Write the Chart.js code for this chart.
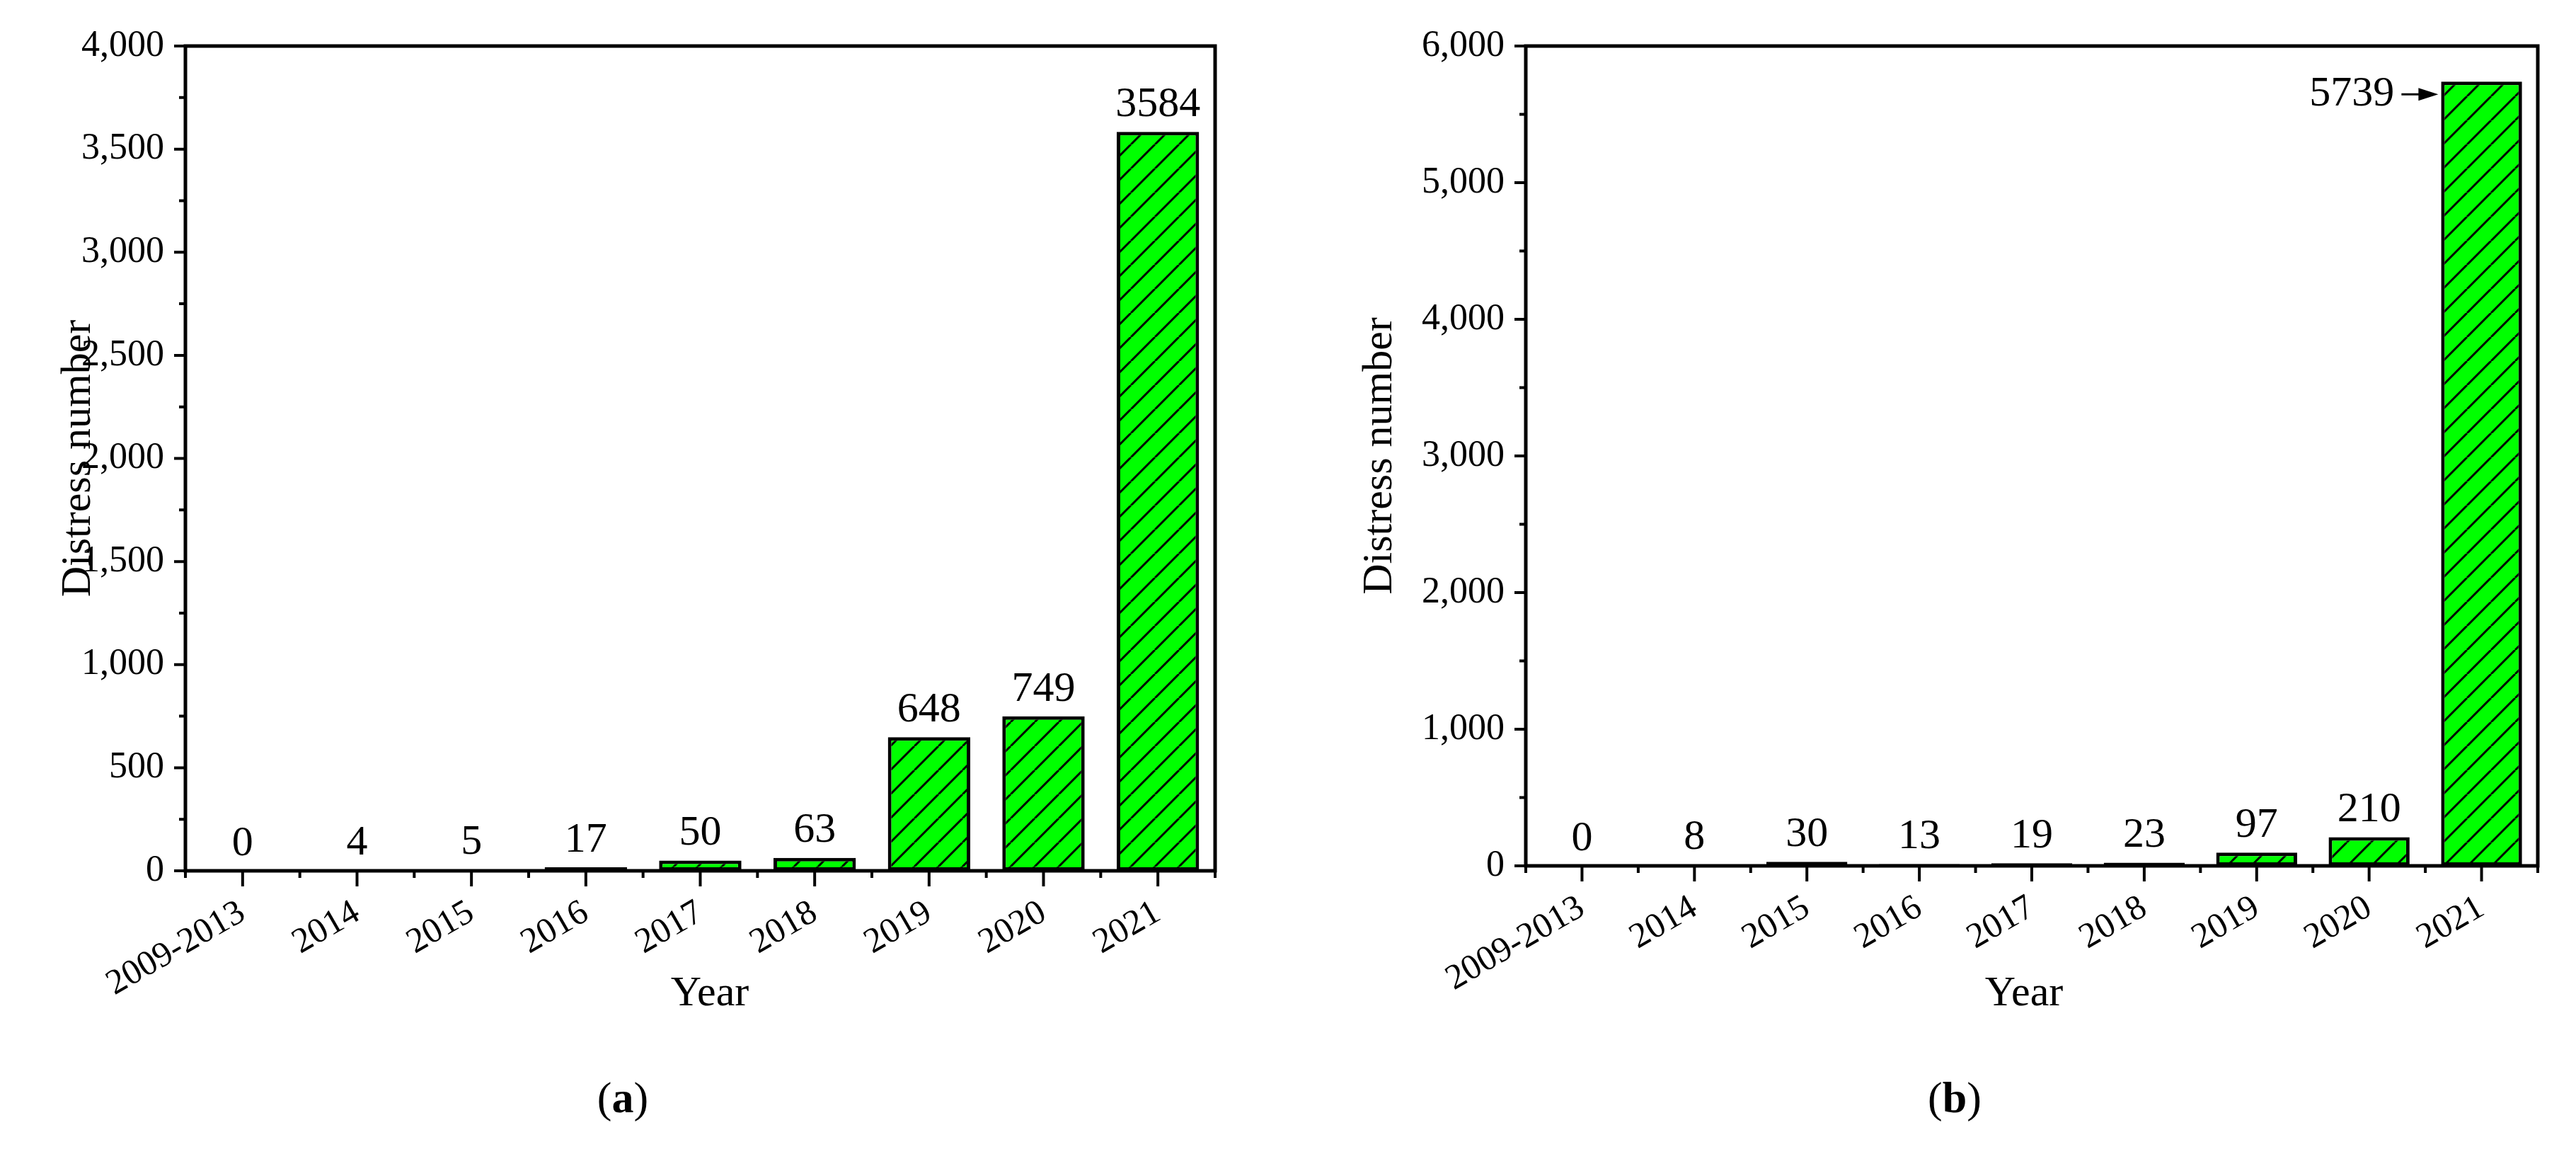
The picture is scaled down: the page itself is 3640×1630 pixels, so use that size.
<!DOCTYPE html>
<html>
<head>
<meta charset="utf-8">
<script src="https://cdn.jsdelivr.net/npm/chart.js@4.4.1/dist/chart.umd.min.js"></script>
<style>
  html, body { margin: 0; padding: 0; background: #fff; }
  .wrap { display: flex; width: 3640px; height: 1630px; }
  .panel { position: relative; width: 1820px; height: 1630px; }
</style>
</head>
<body>
<div class="wrap">
  <div class="panel"><canvas id="chart-a"></canvas></div>
  <div class="panel"><canvas id="chart-b"></canvas></div>
</div>
<script>
const YEARS = ['2009-2013', '2014', '2015', '2016', '2017', '2018', '2019', '2020', '2021'];
const COUNTS_A = [0, 4, 5, 17, 50, 63, 648, 749, 3584];
const COUNTS_B = [0, 8, 30, 13, 19, 23, 97, 210, 5739];
const TICKS_A = { max: 4000, step: 500 };
const TICKS_B = { max: 6000, step: 1000 };

const FONT = '"Liberation Serif", "Times New Roman", serif';
const GREEN = '#00ff00';

function hatchPattern() {
    const size = 34;
    const c = document.createElement('canvas');
    c.width = size;
    c.height = size;
    const ctx = c.getContext('2d');
    ctx.fillStyle = GREEN;
    ctx.fillRect(0, 0, size, size);
    ctx.strokeStyle = '#000';
    ctx.lineWidth = 3;
    ctx.beginPath();
    for (let k = -1; k <= 1; k++) {
        ctx.moveTo(k * size, size);
        ctx.lineTo(k * size + size, 0);
    }
    ctx.stroke();
    return ctx.createPattern(c, 'repeat');
}

// frame, outward ticks (major + minor), titles and value labels
const decorPlugin = {
    id: 'decor',
    afterDatasetsDraw(chart, args, opts) {
        const { ctx, chartArea: a, scales: { x, y } } = chart;
        ctx.save();
        ctx.strokeStyle = '#000';
        ctx.lineWidth = 5;
        ctx.strokeRect(a.left, a.top, a.right - a.left, a.bottom - a.top);

        ctx.lineWidth = 4;
        ctx.beginPath();
        const step = opts.step;
        for (let v = 0; v <= y.max + 1e-6; v += step / 2) {
            const py = y.getPixelForValue(v);
            const len = (v % step === 0) ? 16 : 9;
            ctx.moveTo(a.left, py);
            ctx.lineTo(a.left - len, py);
        }
        const n = YEARS.length;
        const cw = (a.right - a.left) / n;
        for (let i = 0; i < n; i++) {
            const px = x.getPixelForValue(i);
            ctx.moveTo(px, a.bottom);
            ctx.lineTo(px, a.bottom + 22);
            ctx.moveTo(px - cw / 2, a.bottom);
            ctx.lineTo(px - cw / 2, a.bottom + 10);
        }
        ctx.moveTo(a.right, a.bottom);
        ctx.lineTo(a.right, a.bottom + 10);
        ctx.stroke();

        // value labels
        ctx.fillStyle = '#000';
        ctx.font = `60px ${FONT}`;
        const meta = chart.getDatasetMeta(0);
        const data = chart.data.datasets[0].data;
        meta.data.forEach((bar, i) => {
            if (opts.arrowLast && i === data.length - 1) {
                const tipX = bar.x - bar.width / 2 - 4;
                const ty = bar.y + 18;
                ctx.textAlign = 'right';
                ctx.textBaseline = 'middle';
                ctx.fillText(String(data[i]), tipX - 62, ty);
                ctx.lineWidth = 3;
                ctx.beginPath();
                ctx.moveTo(tipX - 52, ty);
                ctx.lineTo(tipX - 20, ty);
                ctx.stroke();
                ctx.beginPath();
                ctx.moveTo(tipX, ty);
                ctx.lineTo(tipX - 28, ty - 9);
                ctx.lineTo(tipX - 28, ty + 9);
                ctx.closePath();
                ctx.fill();
            } else {
                ctx.textAlign = 'center';
                ctx.textBaseline = 'bottom';
                ctx.fillText(String(data[i]), bar.x, bar.y - 8);
            }
        });

        // axis titles
        ctx.font = `60px ${FONT}`;
        ctx.textAlign = 'center';
        ctx.textBaseline = 'middle';
        ctx.fillText('Year', opts.yearX, 1404);
        ctx.save();
        ctx.translate(opts.titleX, (a.top + a.bottom) / 2);
        ctx.rotate(-Math.PI / 2);
        ctx.fillText('Distress number', 0, 0);
        ctx.restore();

        // panel letter
        ctx.font = `62px ${FONT}`;
        const w1 = ctx.measureText('(').width;
        ctx.font = `bold 62px ${FONT}`;
        const w2 = ctx.measureText(opts.letter).width;
        ctx.font = `62px ${FONT}`;
        const w3 = ctx.measureText(')').width;
        let sx = opts.letterX - (w1 + w2 + w3) / 2;
        ctx.textAlign = 'left';
        ctx.fillText('(', sx, 1555);
        ctx.font = `bold 62px ${FONT}`;
        ctx.fillText(opts.letter, sx + w1, 1555);
        ctx.font = `62px ${FONT}`;
        ctx.fillText(')', sx + w1 + w2, 1555);
        ctx.restore();
    },
};

function makeChart(id, values, ticks, cfg) {
    return new Chart(document.getElementById(id), {
        type: 'bar',
        data: {
            labels: YEARS,
            datasets: [{
                data: values,
                backgroundColor: hatchPattern(),
                borderColor: '#000',
                borderWidth: 5,
                borderSkipped: false,
                barPercentage: 0.72,
                categoryPercentage: 1,
            }],
        },
        options: {
            responsive: true,
            maintainAspectRatio: false,
            animation: false,
            events: [],
            layout: { padding: { top: 65, right: cfg.right, left: 0, bottom: 0 } },
            plugins: {
                legend: { display: false },
                tooltip: { enabled: false },
                decor: {
                    step: ticks.step,
                    letter: cfg.letter,
                    letterX: cfg.letterX,
                    yearX: cfg.yearX,
                    titleX: cfg.titleX,
                    arrowLast: cfg.arrowLast,
                },
            },
            scales: {
                x: {
                    grid: { display: false },
                    border: { display: false },
                    ticks: {
                        color: '#000',
                        font: { family: FONT, size: 50 },
                        maxRotation: 30,
                        minRotation: 30,
                        padding: 22,
                    },
                    afterFit: (s) => { s.height = 1630 - cfg.bottom; },
                },
                y: {
                    min: 0,
                    max: ticks.max,
                    grid: { display: false },
                    border: { display: false },
                    ticks: {
                        stepSize: ticks.step,
                        color: '#000',
                        font: { family: FONT, size: 52 },
                        padding: 22,
                    },
                    afterFit: (s) => { s.width = cfg.left; },
                },
            },
        },
        plugins: [decorPlugin],
    });
}

makeChart('chart-a', COUNTS_A, TICKS_A, {
    left: 262, right: 103, bottom: 1230,
    letter: 'a', letterX: 880, yearX: 1003, titleX: 111, arrowLast: false,
});
makeChart('chart-b', COUNTS_B, TICKS_B, {
    left: 336, right: 54, bottom: 1223,
    letter: 'b', letterX: 942, yearX: 1040, titleX: 130, arrowLast: true,
});
</script>
</body>
</html>
